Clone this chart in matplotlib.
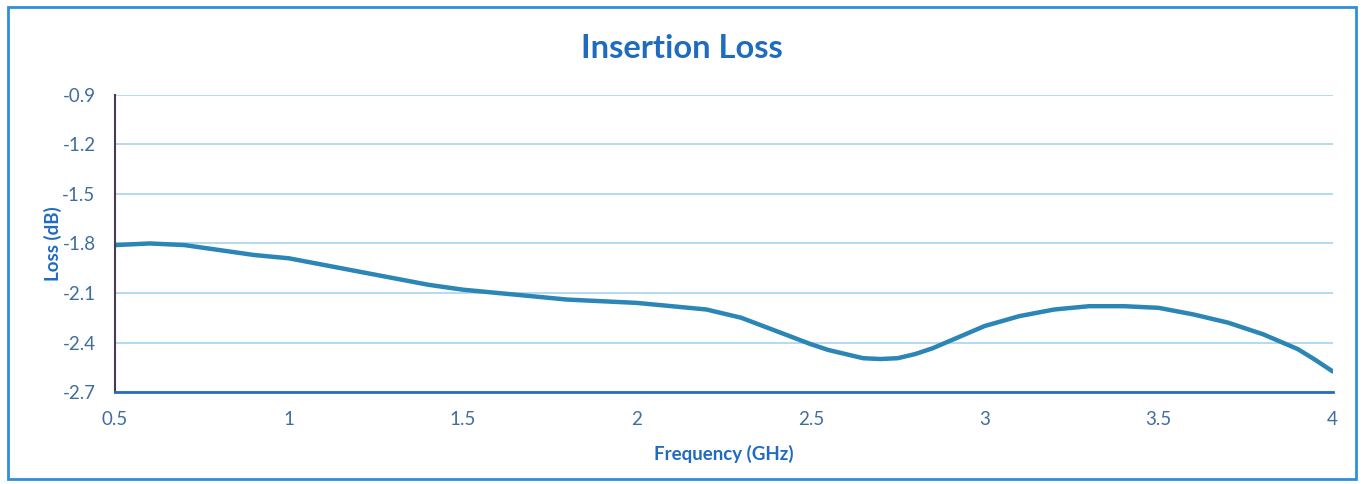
import matplotlib
matplotlib.use("Agg")
import matplotlib.pyplot as plt
from matplotlib.patches import Rectangle

# values
freq = [0.5, 0.6, 0.7, 0.8, 0.9, 1.0, 1.1, 1.2, 1.3, 1.4, 1.5, 1.6, 1.7, 1.8,
        1.9, 2.0, 2.1, 2.2, 2.3, 2.4, 2.5, 2.55, 2.6, 2.65, 2.7, 2.75, 2.8,
        2.85, 2.9, 3.0, 3.1, 3.2, 3.3, 3.4, 3.5, 3.6, 3.7, 3.8, 3.9, 3.95, 4.0]
loss = [-1.81, -1.80, -1.81, -1.84, -1.87, -1.89, -1.93, -1.97, -2.01, -2.05,
        -2.08, -2.10, -2.12, -2.14, -2.15, -2.16, -2.18, -2.20, -2.25, -2.33,
        -2.41, -2.445, -2.47, -2.495, -2.50, -2.495, -2.47, -2.435, -2.39,
        -2.30, -2.24, -2.20, -2.18, -2.18, -2.19, -2.23, -2.28, -2.35, -2.44,
        -2.505, -2.575]
yticks = [-0.9, -1.2, -1.5, -1.8, -2.1, -2.4, -2.7]
xticks = [0.5, 1, 1.5, 2, 2.5, 3, 3.5, 4]

plt.rcParams['font.family'] = ['Lato', 'DejaVu Sans']
blue = "#1f6bc0"
tick_col = "#3f6e9e"

fig = plt.figure(figsize=(13.64, 4.84), dpi=100)
fig.patches.append(Rectangle((0.006, 0.01), 0.988, 0.975, transform=fig.transFigure,
                             fill=False, edgecolor="#2f8fd8", linewidth=2))
ax = fig.add_axes([0.0843, 0.190, 0.8927, 0.614])

ax.plot(freq, loss, color="#2b86b5", linewidth=3.2, solid_capstyle="round",
        solid_joinstyle="round")

ax.set_xlim(0.5, 4)
ax.set_ylim(-2.7, -0.9)
ax.set_xticks(xticks)
ax.set_xticklabels([str(x) for x in xticks])
ax.set_yticks(yticks)
ax.set_yticklabels([str(y) for y in yticks])
ax.grid(axis="y", color="#a8d4ee", linewidth=1.2)
ax.set_axisbelow(True)

for s in ["top", "right"]:
    ax.spines[s].set_visible(False)
ax.spines["left"].set_color("#4a3a5a")
ax.spines["left"].set_linewidth(1.5)
ax.spines["bottom"].set_color("#2a6cb8")
ax.spines["bottom"].set_linewidth(2)
ax.tick_params(length=0, colors=tick_col, labelsize=13.5)
ax.tick_params(axis="y", pad=14)
ax.tick_params(axis="x", pad=14)

fig.text(0.5, 0.90, "Insertion Loss", color=blue, fontsize=23.5, fontweight="bold",
         ha="center", va="center")
ax.set_xlabel("Frequency (GHz)", color=blue, fontsize=13.5, fontweight="bold", labelpad=12)
ax.set_ylabel("Loss (dB)", color=blue, fontsize=13.5, fontweight="bold", labelpad=0)

fig.savefig("out.png", dpi=100)
